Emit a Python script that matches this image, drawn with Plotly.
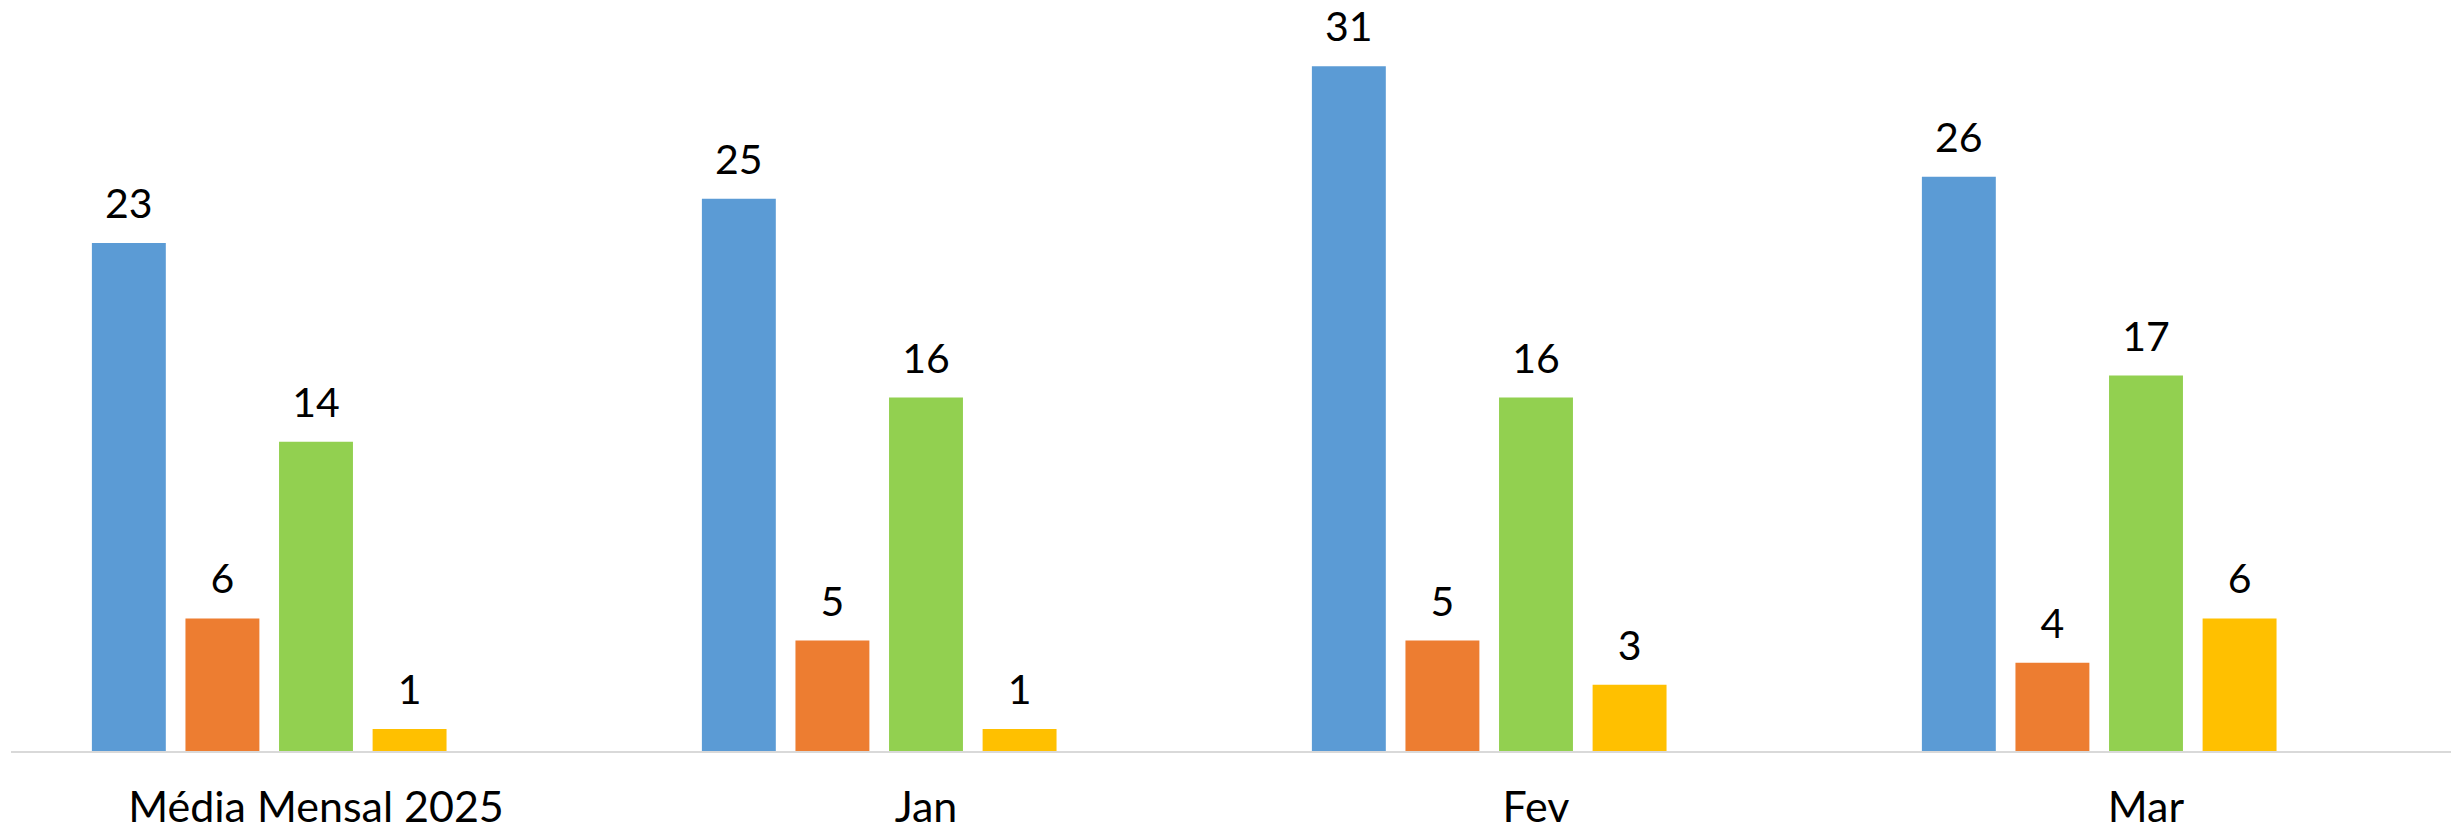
import plotly.graph_objects as go

categories = ["Média Mensal 2025", "Jan", "Fev", "Mar"]
series_names = ["Série 1", "Série 2", "Série 3", "Série 4", "Série 5"]
serie1 = [23, 25, 31, 26]
serie2 = [6, 5, 5, 4]
serie3 = [14, 16, 16, 17]
serie4 = [1, 1, 3, 6]
serie5 = [None, None, None, None]
colors = ["#5B9BD5", "#ED7D31", "#92D050", "#FFC000", "#A5A5A5"]

FONT = "Lato, 'Open Sans', sans-serif"
all_series = [serie1, serie2, serie3, serie4, serie5]

fig = go.Figure()
for name, vals, col in zip(series_names, all_series, colors):
    fig.add_trace(go.Bar(
        name=name, x=categories, y=vals,
        marker=dict(color=col, line=dict(width=0)),
        offsetgroup=name,
        showlegend=False, hoverinfo="x+y",
    ))
# value labels, grouped the same way as the bars
for name, vals in zip(series_names, all_series):
    fig.add_trace(go.Scatter(
        name=name + " rótulo", x=categories, y=vals,
        mode="markers+text",
        marker=dict(size=22, color="rgba(0,0,0,0)"),
        text=[("" if v is None else str(v)) for v in vals],
        textposition="top center",
        textfont=dict(family=FONT, size=41, color="#000000"),
        offsetgroup=name, orientation="v",
        cliponaxis=False, showlegend=False, hoverinfo="skip",
    ))

fig.update_layout(
    width=2459, height=836,
    margin=dict(l=11, r=8, t=0, b=85),
    barmode="group", bargap=0.233, bargroupgap=0.21,
    scattermode="group", scattergap=0.233,
    plot_bgcolor="white", paper_bgcolor="white",
    font=dict(family=FONT, size=41, color="#000000"),
)
fig.update_xaxes(
    showline=True, linecolor="#D9D9D9", linewidth=2,
    ticks="", showgrid=False, zeroline=False,
    tickfont=dict(family=FONT, size=43, color="#000000"),
    ticklabelstandoff=17, automargin=False,
)
fig.update_yaxes(
    range=[0, 34], visible=False, showgrid=False, zeroline=False,
    automargin=False,
)

fig.write_html("out.html", config={"displayModeBar": False},
               post_script="document.body.style.margin='0';")
